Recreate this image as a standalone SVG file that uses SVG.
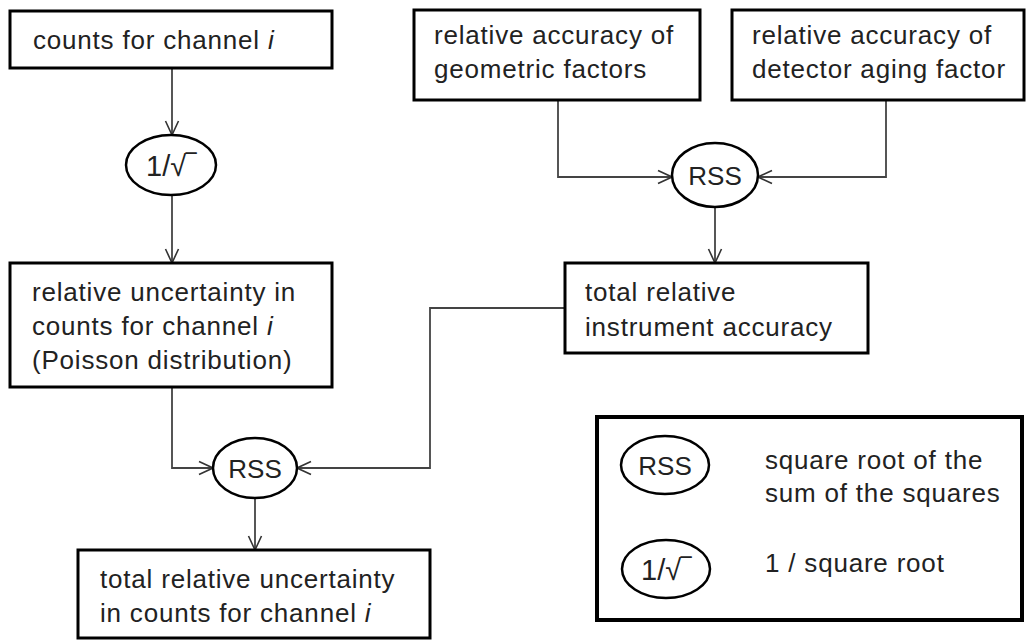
<svg xmlns="http://www.w3.org/2000/svg" width="1026" height="640" viewBox="0 0 1026 640">
<defs>
<marker id="arr" viewBox="0 0 16 16" refX="15" refY="8" markerWidth="16" markerHeight="16" markerUnits="userSpaceOnUse" orient="auto">
<path d="M1,1.5 L15,8 L1,14.5" fill="none" stroke="#333" stroke-width="1.6"/>
</marker>
</defs>
<style>
.box{fill:#fff;stroke:#000;stroke-width:3}
.ell{fill:#fff;stroke:#000;stroke-width:2.5}
.t{font-family:"Liberation Sans",Arial,sans-serif;font-size:26px;letter-spacing:0.8px;fill:#222}
.c{text-anchor:middle;letter-spacing:0}
.big{font-size:29px}
.con{fill:none;stroke:#444;stroke-width:1.8;marker-end:url(#arr)}
</style>
<rect width="1026" height="640" fill="#fff"/>
<g id="connectors">
<path class="con" d="M172,68 V135"/>
<path class="con" d="M172,195 V263"/>
<path class="con" d="M172,387 V468 H213"/>
<path class="con" d="M565,308 H430 V468 H297"/>
<path class="con" d="M255,498 V550"/>
<path class="con" d="M558,100 V177 H672"/>
<path class="con" d="M886,100 V177 H758"/>
<path class="con" d="M715,207 V263"/>
</g>
<g id="counts">
<rect class="box" x="10" y="11" width="322" height="57"/>
<text class="t" x="33" y="49">counts for channel <tspan font-style="italic">i</tspan></text>
</g>
<g id="invsqrt">
<ellipse class="ell" cx="171" cy="165" rx="45" ry="30"/>
<text class="t c big" x="171" y="176">1/√‾</text>
</g>
<g id="reluncert">
<rect class="box" x="10" y="263" width="322" height="124"/>
<text class="t" x="32" y="301">relative uncertainty in</text>
<text class="t" x="32" y="335">counts for channel <tspan font-style="italic">i</tspan></text>
<text class="t" x="32" y="369">(Poisson distribution)</text>
</g>
<g id="rss1">
<ellipse class="ell" cx="255" cy="468" rx="42" ry="30"/>
<text class="t c" x="255" y="478">RSS</text>
</g>
<g id="total">
<rect class="box" x="78" y="550" width="352" height="88"/>
<text class="t" x="100" y="588">total relative uncertainty</text>
<text class="t" x="100" y="622">in counts for channel <tspan font-style="italic">i</tspan></text>
</g>
<g id="geo">
<rect class="box" x="414" y="10" width="286" height="90"/>
<text class="t" x="434" y="44">relative accuracy of</text>
<text class="t" x="434" y="78">geometric factors</text>
</g>
<g id="detector">
<rect class="box" x="732" y="10" width="292" height="90"/>
<text class="t" x="752" y="44">relative accuracy of</text>
<text class="t" x="752" y="78">detector aging factor</text>
</g>
<g id="rss2">
<ellipse class="ell" cx="715" cy="175" rx="43" ry="32"/>
<text class="t c" x="715" y="185">RSS</text>
</g>
<g id="instrument">
<rect class="box" x="565" y="263" width="303" height="90"/>
<text class="t" x="585" y="301">total relative</text>
<text class="t" x="585" y="336">instrument accuracy</text>
</g>
<g id="legend">
<rect x="597" y="417" width="425" height="203" fill="#fff" stroke="#000" stroke-width="4"/>
<ellipse class="ell" cx="665" cy="465" rx="44" ry="29"/>
<text class="t c" x="665" y="475">RSS</text>
<ellipse class="ell" cx="666" cy="569" rx="44" ry="29"/>
<text class="t c big" x="666" y="580">1/√‾</text>
<text class="t" x="765" y="469">square root of the</text>
<text class="t" x="765" y="502">sum of the squares</text>
<text class="t" x="765" y="572">1 / square root</text>
</g>
</svg>
